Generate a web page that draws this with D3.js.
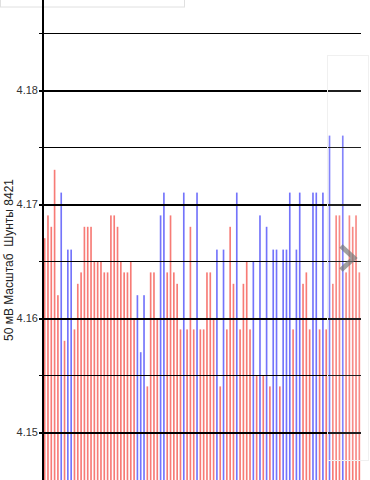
<!DOCTYPE html>
<html>
<head>
<meta charset="utf-8">
<script src="https://cdn.jsdelivr.net/npm/d3@7"></script>
<style>
  html, body { margin: 0; padding: 0; background: #fff; }
  #chart { width: 370px; height: 480px; overflow: hidden; }
  text { font-family: "Liberation Sans", Arial, sans-serif; }
</style>
</head>
<body>
<div id="chart"></div>
<script>
// значения шунтов (один столбик на измерение)
var values = [
  4.167, 4.169, 4.168, 4.173, 4.162, 4.171, 4.158, 4.166, 4.166, 4.159,
  4.163, 4.164, 4.168, 4.168, 4.168, 4.165, 4.165, 4.165, 4.164, 4.164,
  4.169, 4.169, 4.168, 4.165, 4.164, 4.164, 4.165, 4.160, 4.162, 4.157,
  4.162, 4.154, 4.164, 4.164, 4.160, 4.169, 4.171, 4.164, 4.169, 4.164,
  4.163, 4.159, 4.171, 4.159, 4.168, 4.159, 4.171, 4.159, 4.159, 4.164,
  4.164, 4.160, 4.166, 4.154, 4.166, 4.159, 4.168, 4.163, 4.171, 4.159,
  4.163, 4.165, 4.159, 4.165, 4.155, 4.169, 4.155, 4.168, 4.154, 4.166,
  4.166, 4.154, 4.166, 4.166, 4.171, 4.159, 4.166, 4.171, 4.163, 4.164,
  4.159, 4.171, 4.171, 4.159, 4.171, 4.159, 4.176, 4.163, 4.169, 4.169,
  4.176, 4.164, 4.169, 4.168, 4.169, 4.164
];

// канал каждого столбика: R - красный, B - синий
var channels = (
  "RRRRRBRBBR" + "RRRRRRRRRR" + "RRRRRRRRBB" + "BRRRRBBRRR" + "RRBRRRBRRR" +
  "RRBRBRRRBR" + "RRRBRBRBRB" + "BRBBBRBBRR" + "RBBRBRBRRR" + "BRRRRR"
).split("");

var gridTicks = [4.15, 4.155, 4.16, 4.165, 4.17, 4.175, 4.18, 4.185];
var labelTicks = [4.15, 4.16, 4.17, 4.18];
var yTitle = "50 мВ Масштаб  Шунты 8421";

var colors = { R: "#f77b76", B: "#7474fb" };

var width = 370, height = 480;
var left = 43, right = 361;

var svg = d3.select("#chart")
  .append("svg")
  .attr("width", width)
  .attr("height", height);

var x = d3.scaleBand()
  .domain(d3.range(values.length))
  .range([left, right])
  .paddingInner(0.5)
  .paddingOuter(0.25);

// ось продолжается ниже видимой области
var y = d3.scaleLinear()
  .domain([4.14, 4.19])
  .range([546, -24]);

function isMajor(d) {
  return labelTicks.some(function (t) { return Math.abs(t - d) < 1e-9; });
}

// рамка сверху слева (обрезанная)
svg.append("rect")
  .attr("x", 0.5)
  .attr("y", -2)
  .attr("width", 184)
  .attr("height", 9)
  .attr("fill", "#fff")
  .attr("stroke", "#e0e0e0");

// столбики
svg.selectAll(".bar")
  .data(values)
  .enter()
  .append("rect")
  .attr("class", "bar")
  .attr("x", function (d, i) { return x(i); })
  .attr("width", x.bandwidth())
  .attr("y", function (d) { return y(d); })
  .attr("height", function (d) { return y(4.14) - y(d); })
  .attr("fill", function (d, i) { return colors[channels[i]]; });

// сетка
var yAxis = d3.axisLeft(y)
  .tickValues(gridTicks)
  .tickSize(-(right - left) - 3)
  .tickFormat(function (d) { return isMajor(d) ? d3.format(".2f")(d) : ""; });

var g = svg.append("g")
  .attr("transform", "translate(" + right + ",0)")
  .call(yAxis);

g.select(".domain").remove();
g.selectAll(".tick line")
  .attr("x1", 0)
  .attr("x2", -(right - left) - 4)
  .attr("stroke", "#000")
  .attr("shape-rendering", "crispEdges")
  .attr("stroke-width", function (d) { return isMajor(d) ? 2 : 1; });
g.selectAll(".tick text")
  .attr("x", -(right - 38))
  .attr("dy", "0.32em")
  .attr("fill", "#333")
  .attr("font-size", "11px")
  .attr("font-family", "Liberation Sans, Arial, sans-serif");

// вертикальная ось
svg.append("line")
  .attr("x1", left)
  .attr("x2", left)
  .attr("y1", 0)
  .attr("y2", height)
  .attr("stroke", "#000")
  .attr("stroke-width", 2);

// подпись оси
svg.append("text")
  .attr("transform", "translate(13,260) rotate(-90)")
  .attr("text-anchor", "middle")
  .attr("font-size", "12px")
  .attr("fill", "#222")
  .style("white-space", "pre")
  .text(yTitle);

// кнопка "вперёд" справа
svg.append("rect")
  .attr("x", 327.5)
  .attr("y", 55.5)
  .attr("width", 41)
  .attr("height", 405)
  .attr("fill", "#fff")
  .attr("fill-opacity", 0.12)
  .attr("stroke", "#f0f0f0");

svg.append("path")
  .attr("d", "M341,246 L354,258 L341,270")
  .attr("fill", "none")
  .attr("stroke", "#777")
  .attr("stroke-opacity", 0.7)
  .attr("stroke-width", 5);
</script>
</body>
</html>
